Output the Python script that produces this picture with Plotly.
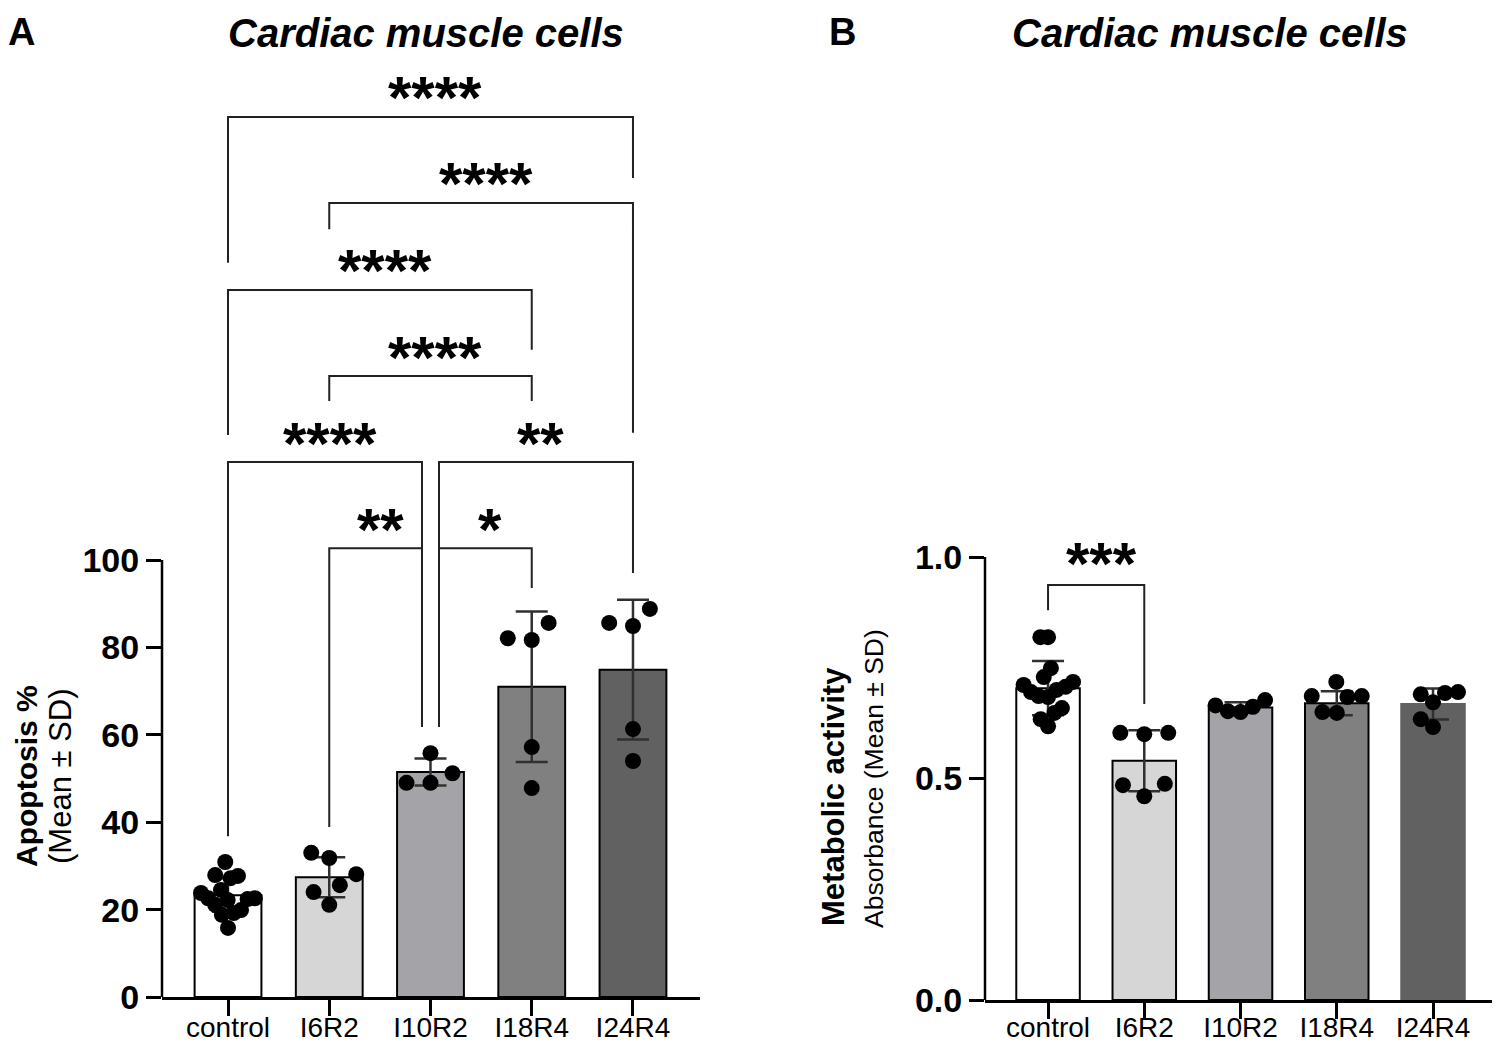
"""Cardiac muscle cells: apoptosis (A) and metabolic activity (B) bar + dot plots."""

import math

import plotly.graph_objects as go

# ---- data -------------------------------------------------------------
groups = ["control", "I6R2", "I10R2", "I18R4", "I24R4"]
bar_colors = ["#ffffff", "#d6d6d6", "#a4a4a8", "#808080", "#616161"]

# panel A: apoptosis %
apop_mean = [23.3, 27.4, 51.5, 71.0, 74.9]
apop_sd = [3.8, 4.6, 3.1, 17.2, 16.0]
apop_points = [
    [30.9, 27.7, 27.9, 27.2, 24.5, 22.2, 22.6, 22.6, 23.8, 22.4, 21.1, 19.2, 18.8, 19.9, 15.8],
    [33.0, 31.8, 28.1, 25.6, 24.0, 21.1],
    [55.8, 51.2, 49.0, 49.0],
    [81.7, 82.1, 85.6, 57.2, 47.8],
    [88.8, 84.9, 85.6, 61.3, 54.0],
]

# panel B: metabolic activity (absorbance)
abs_mean = [0.704, 0.540, 0.660, 0.670, 0.668]
abs_sd = [0.061, 0.069, 0.012, 0.027, 0.035]
abs_points = [
    [0.819, 0.819, 0.749, 0.729, 0.718, 0.707, 0.711, 0.686, 0.700, 0.684,
     0.659, 0.648, 0.634, 0.618, 0.695],
    [0.603, 0.600, 0.603, 0.488, 0.485, 0.460],
    [0.677, 0.665, 0.652, 0.650, 0.662],
    [0.718, 0.686, 0.684, 0.686, 0.650, 0.648],
    [0.690, 0.695, 0.693, 0.672, 0.634, 0.616],
]

# significance brackets: (left, right, top, left leg end, right leg end, label)
# x values are group indices; the shared I10R2 legs sit slightly off centre
apop_brackets = [
    (0, 4, 201.4, 168.0, 187.4, "****"),
    (1, 4, 181.7, 175.7, 129.1, "****"),
    (0, 3, 161.8, 128.6, 148.1, "****"),
    (1, 3, 142.1, 136.4, 136.4, "****"),
    (0, 1.916, 122.4, 36.8, 61.8, "****"),
    (2.084, 4, 122.4, 61.8, 97.0, "**"),
    (1, 1.916, 102.7, 38.9, 61.8, "**"),
    (2.084, 3, 102.7, 61.8, 93.6, "*"),
]
abs_brackets = [
    (0, 1, 0.937, 0.880, 0.668, "***"),
]

# the page puts the figure 8px in from the top-left corner of the window
PAGE_MARGIN = 8
FW, FH = 1500 - PAGE_MARGIN, 1046 - PAGE_MARGIN
FONT = "Liberation Sans, Arial, sans-serif"

# pixel geometry of the two panels
A_PX_UNIT = 4.37      # px per % on the y axis
A_PX_CAT = 101.25     # px between categories
B_PX_UNIT = 443.0
B_PX_CAT = 96.25


def px_x(x):
    return (x - PAGE_MARGIN) / FW


def px_y(y):
    return 1 - (y - PAGE_MARGIN) / FH


def swarm(values, px_unit, px_cat, diam=24.0, limit=27.0):
    """Simple beeswarm: offsets (in category units) so dots don't collide."""
    ys = [v * px_unit for v in values]
    order = sorted(range(len(values)), key=lambda i: values[i])
    placed = []
    xs = [0.0] * len(values)
    for i in order:
        y = ys[i]
        cands = [0.0]
        for px, py in placed:
            dy = abs(py - y)
            if dy < diam:
                dx = math.sqrt(diam ** 2 - dy ** 2)
                cands += [px - dx, px + dx]
        best = 0.0
        for c in sorted(cands, key=abs):
            if all((c - px) ** 2 + (y - py) ** 2 >= diam ** 2 - 1e-6 for px, py in placed):
                best = c
                break
        xs[i] = best
        placed.append((best, y))
    widest = max(abs(x) for x in xs)
    if widest > limit:
        xs = [x * limit / widest for x in xs]
    return [x / px_cat for x in xs]


def add_panel(fig, xa, ya, means, sds, points, px_unit, px_cat, limit, line_colors):
    xs = list(range(len(groups)))
    fig.add_trace(
        go.Bar(
            x=xs,
            y=means,
            width=0.66,
            marker=dict(color=bar_colors, line=dict(color=line_colors, width=2)),
            error_y=dict(type="data", array=sds, visible=True,
                         color="#303030", thickness=2.5, width=16),
            xaxis=xa,
            yaxis=ya,
            showlegend=False,
        )
    )
    for i, vals in enumerate(points):
        offs = swarm(vals, px_unit, px_cat, limit=limit)
        fig.add_trace(
            go.Scatter(
                x=[i + o for o in offs],
                y=vals,
                mode="markers",
                marker=dict(color="black", size=16, line=dict(width=0)),
                xaxis=xa,
                yaxis=ya,
                showlegend=False,
                cliponaxis=False,
            )
        )


def add_brackets(fig, xa, ya, brackets, star_shift):
    for x0, x1, top, e0, e1, label in brackets:
        fig.add_shape(
            type="path",
            path=f"M {x0} {e0} L {x0} {top} L {x1} {top} L {x1} {e1}",
            xref=xa, yref=ya,
            line=dict(color="#222222", width=2),
        )
        fig.add_annotation(
            x=(x0 + x1) / 2, y=top, xref=xa, yref=ya,
            text=f"<b>{label}</b>", showarrow=False,
            font=dict(family=FONT, size=60, color="black"),
            yanchor="middle", yshift=star_shift, xshift=5,
        )


fig = go.Figure()
add_panel(fig, "x", "y", apop_mean, apop_sd, apop_points, A_PX_UNIT, A_PX_CAT, 27.0,
          ["black"] * 5)
add_panel(fig, "x2", "y2", abs_mean, abs_sd, abs_points, B_PX_UNIT, B_PX_CAT, 25.0,
          ["black", "black", "black", "black", "#616161"])
add_brackets(fig, "x", "y", apop_brackets, 19)
add_brackets(fig, "x2", "y2", abs_brackets, 21)

# y axis lines only span the labelled range
fig.add_shape(type="line", xref="x domain", yref="y", x0=0, x1=0, y0=0, y1=100,
              line=dict(color="black", width=2.5))
fig.add_shape(type="line", xref="x2 domain", yref="y2", x0=0, x1=0, y0=0, y1=1.0,
              line=dict(color="black", width=2.5))

xaxis_common = dict(
    tickvals=list(range(len(groups))),
    ticktext=groups,
    ticks="outside", ticklen=16, tickwidth=2.5, tickcolor="black",
    showline=True, linewidth=2.5, linecolor="black",
    showgrid=False, zeroline=False, automargin=False,
    tickfont=dict(family=FONT, size=28, color="black"),
)
yaxis_common = dict(
    ticks="outside", ticklen=15, tickwidth=2.5, tickcolor="black",
    showline=False, showgrid=False, zeroline=False, automargin=False,
    tickfont=dict(family=FONT, size=34, color="black", weight="bold"),
    ticklabelstandoff=0,
)

top_px = 57
fig.update_layout(
    width=FW, height=FH,
    margin=dict(l=0, r=0, t=0, b=0, autoexpand=False),
    paper_bgcolor="white", plot_bgcolor="white",
    font=dict(family=FONT, color="black"),
    xaxis=dict(xaxis_common, domain=[px_x(162), px_x(700)], range=[-0.652, 4.662],
               anchor="y", ticklabelstandoff=-12),
    yaxis=dict(yaxis_common, domain=[px_y(997), px_y(top_px)],
               range=[0, (997 - top_px) / A_PX_UNIT],
               tickvals=[0, 20, 40, 60, 80, 100], anchor="x"),
    xaxis2=dict(xaxis_common, domain=[px_x(985), 1.0],
                range=[-0.655, (1500 - 1048) / B_PX_CAT], anchor="y2",
                ticklabelstandoff=-15),
    yaxis2=dict(yaxis_common, domain=[px_y(1000), px_y(top_px)],
                range=[0, (1000 - top_px) / B_PX_UNIT],
                tickvals=[0, 0.5, 1.0], ticktext=["0.0", "0.5", "1.0"], anchor="x2"),
)

texts = [
    # text, x px, y px, size, angle
    ("<b>A</b>", 22, 32, 38, 0),
    ("<b>B</b>", 842, 32, 38, 0),
    ("<b><i>Cardiac muscle cells</i></b>", 426, 33, 40, 0),
    ("<b><i>Cardiac muscle cells</i></b>", 1210, 33, 40, 0),
    ("<b>Apoptosis %</b>", 26, 776, 30, -90),
    ("(Mean ± SD)", 60, 776, 31, -90),
    ("<b>Metabolic activity</b>", 833, 797, 31, -90),
    ("Absorbance (Mean ± SD)", 874, 779, 26.5, -90),
]
for txt, px, py, size, ang in texts:
    fig.add_annotation(
        x=px_x(px), y=px_y(py), xref="paper", yref="paper",
        text=txt, showarrow=False, textangle=ang,
        xanchor="center", yanchor="middle",
        font=dict(family=FONT, size=size, color="black"),
    )

fig.write_html("out.html")
